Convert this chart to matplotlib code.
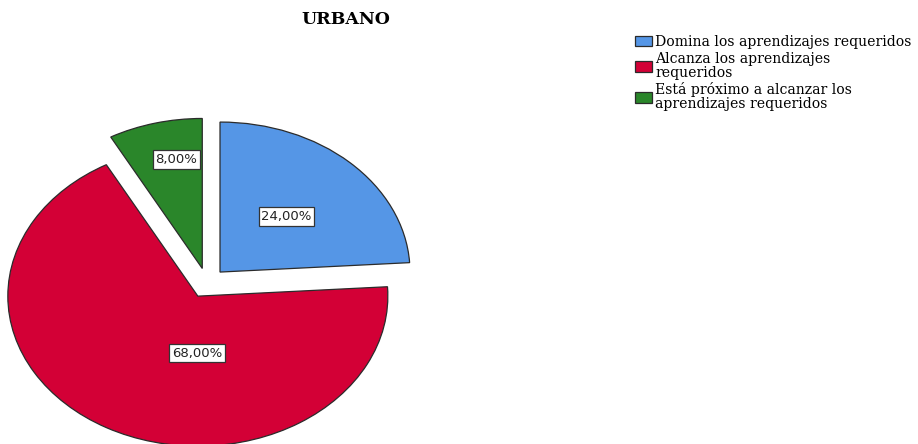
import matplotlib.pyplot as plt
import numpy as np

categories = ["Domina los aprendizajes requeridos",
              "Alcanza los aprendizajes\nrequeridos",
              "Está próximo a alcanzar los\naprendizajes requeridos"]
values = [24.0, 68.0, 8.0]
colors = ["#5596E6", "#D30036", "#2A862A"]
title = "URBANO"

# label placement (radius, angle in degrees) relative to each wedge apex
label_r = [0.51, 0.38, 0.74]
label_ang = [46.7, -90.8, 100.7]

W, H = 918, 444
fig = plt.figure(figsize=(W / 100, H / 100), dpi=100)
ax = fig.add_axes([0, 0, 1, 1])
wedges, _ = ax.pie(values, colors=colors, startangle=90, counterclock=False,
                   explode=[0.1] * 3,
                   wedgeprops=dict(edgecolor="#2b2b2b", linewidth=0.9))
ax.set_aspect("auto")
cx, cy, rx, ry = 207, 283, 190, 150
ax.set_xlim(-cx / rx, (W - cx) / rx)
ax.set_ylim((cy - H) / ry, cy / ry)
ax.axis("off")

for w, v, r, a in zip(wedges, values, label_r, label_ang):
    x0, y0 = w.center
    t = np.deg2rad(a)
    ax.text(x0 + r * np.cos(t), y0 + r * np.sin(t),
            f"{v:.2f}%".replace(".", ","), ha="center", va="center",
            fontsize=9.5, family="DejaVu Sans", color="#222222",
            bbox=dict(boxstyle="square,pad=0.2", facecolor="white",
                      edgecolor="#333333", linewidth=0.9))

fig.text(346 / W, 1 - 20 / H, title, ha="center", va="center",
         family="DejaVu Serif", weight="bold", fontsize=12.5)

leg = fig.legend(wedges, categories, loc="upper left",
                 bbox_to_anchor=(635 / W, 1 - 35 / H), frameon=False,
                 prop=dict(family="DejaVu Serif", size=10.1),
                 handlelength=1.2, handleheight=0.8, handletextpad=0.25,
                 labelspacing=0.18, borderpad=0, borderaxespad=0)
for t in leg.get_texts():
    t.set_linespacing(1.0)

fig.savefig("out.png", dpi=100)
